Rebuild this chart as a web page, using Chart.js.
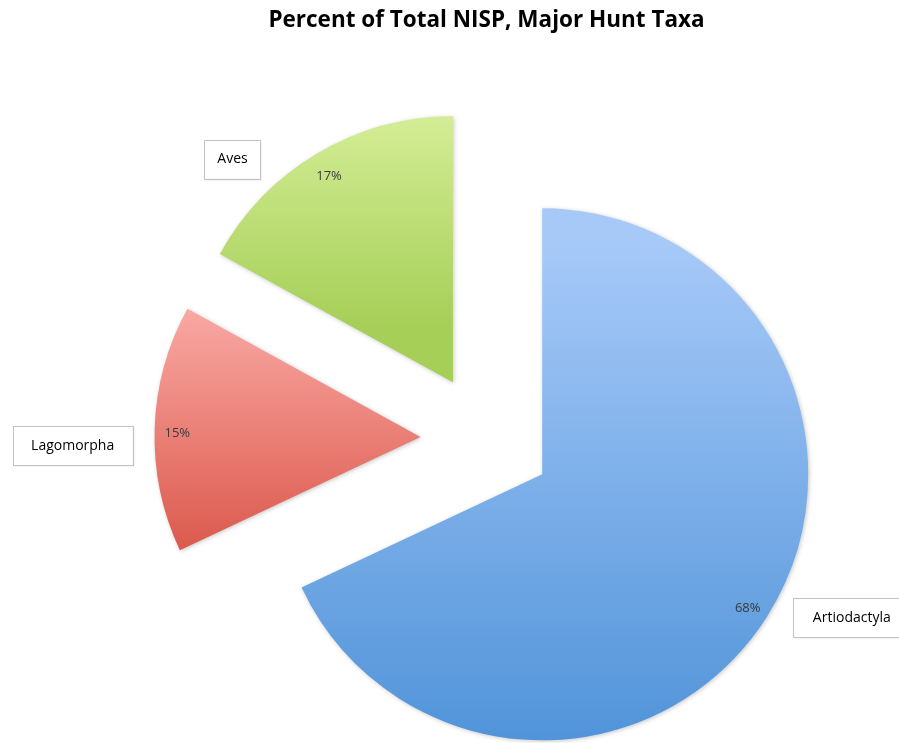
<!DOCTYPE html>
<html>
<head>
<meta charset="utf-8">
<script src="https://cdn.jsdelivr.net/npm/chart.js@4.4.0/dist/chart.umd.min.js"></script>
<style>
html, body { margin: 0; padding: 0; background: #fff; }
</style>
</head>
<body>
<canvas id="pie" width="899" height="743"></canvas>
<script>
const taxa = ['Artiodactyla', 'Lagomorpha', 'Aves'];
const nispPercent = [68, 15, 17];
const topColors = ['#a6c9f8', '#f9a9a4', '#e0f5a6'];
const bottomColors = ['#4b90d7', '#dc5a4e', '#a6cf58'];

const pieRadius = 266;
const explode = 66;   // px each slice is pulled away from the centre
// name boxes: size, and where they sit relative to the outer middle of their slice
const boxWidths = [117, 120, 56];
const nameShift = [[85, 1], [-82, 17], [-85, 6]];

function sliceAngles(i) {
    const total = nispPercent.reduce((a, b) => a + b, 0);
    let start = -Math.PI / 2;
    for (let k = 0; k < i; k++) start += nispPercent[k] / total * 2 * Math.PI;
    const sweep = nispPercent[i] / total * 2 * Math.PI;
    return { start: start, end: start + sweep, sweep: sweep };
}

function sliceGradient(context) {
    const chart = context.chart;
    const area = chart.chartArea;
    const i = context.dataIndex;
    if (!area) return topColors[i];
    const a = sliceAngles(i);
    const mid = (a.start + a.end) / 2;
    const cx = (area.left + area.right) / 2 + Math.cos(mid) * explode;
    const cy = (area.top + area.bottom) / 2 + Math.sin(mid) * explode;
    const ys = [cy, cy + Math.sin(a.start) * pieRadius, cy + Math.sin(a.end) * pieRadius];
    [-Math.PI / 2, Math.PI / 2, 3 * Math.PI / 2].forEach(t => {
        if (t > a.start && t < a.end) ys.push(cy + Math.sin(t) * pieRadius);
    });
    const g = chart.ctx.createLinearGradient(0, Math.min(...ys), 0, Math.max(...ys));
    g.addColorStop(0, topColors[i]);
    g.addColorStop(1, bottomColors[i]);
    return g;
}

const explodedPie = {
    id: 'explodedPie',
    // draw every arc pulled out along its middle angle (chart.js offset also bends the edges)
    beforeDatasetDraw(chart, args) {
        const ctx = chart.ctx;
        args.meta.data.forEach(arc => {
            const mid = (arc.startAngle + arc.endAngle) / 2;
            ctx.save();
            ctx.shadowColor = 'rgba(0,0,0,0.22)';
            ctx.shadowBlur = 4;
            ctx.shadowOffsetX = 1;
            ctx.shadowOffsetY = 1;
            ctx.translate(Math.cos(mid) * explode, Math.sin(mid) * explode);
            arc.draw(ctx, chart.chartArea);
            ctx.restore();
        });
        return false;
    },
    afterDatasetsDraw(chart) {
        const ctx = chart.ctx;
        const total = nispPercent.reduce((a, b) => a + b, 0);
        chart.getDatasetMeta(0).data.forEach((arc, i) => {
            const mid = (arc.startAngle + arc.endAngle) / 2;
            const dx = Math.cos(mid), dy = Math.sin(mid);
            const vx = arc.x + dx * explode, vy = arc.y + dy * explode;

            ctx.save();
            ctx.font = '13px "Open Sans"';
            ctx.fillStyle = '#3a3a3a';
            ctx.textAlign = 'center';
            ctx.textBaseline = 'middle';
            const r = arc.outerRadius * 0.915;
            ctx.fillText(Math.round(nispPercent[i] / total * 100) + '%', vx + dx * r, vy + dy * r + 4);

            // name box outside the slice
            const ox = vx + dx * arc.outerRadius + nameShift[i][0];
            const oy = vy + dy * arc.outerRadius + nameShift[i][1];
            ctx.font = '14px "Open Sans"';
            const w = boxWidths[i];
            const h = 39;
            ctx.shadowColor = 'rgba(0,0,0,0.15)';
            ctx.shadowBlur = 2;
            ctx.shadowOffsetX = 1;
            ctx.shadowOffsetY = 1;
            ctx.fillStyle = '#ffffff';
            ctx.fillRect(ox - w / 2, oy - h / 2, w, h);
            ctx.shadowColor = 'transparent';
            ctx.strokeStyle = '#c4c4c4';
            ctx.lineWidth = 1;
            ctx.strokeRect(Math.round(ox - w / 2) + 0.5, Math.round(oy - h / 2) + 0.5, w, h);
            ctx.fillStyle = '#000000';
            ctx.fillText(taxa[i], ox, oy);
            ctx.restore();
        });
    }
};

new Chart(document.getElementById('pie').getContext('2d'), {
    type: 'pie',
    data: {
        labels: taxa,
        datasets: [{
            data: nispPercent,
            backgroundColor: sliceGradient,
            borderWidth: 0
        }]
    },
    options: {
        responsive: false,
        animation: false,
        events: [],
        radius: pieRadius,
        layout: { padding: { left: 74, right: 0, top: 0, bottom: 0 } },
        plugins: {
            legend: { display: false },
            tooltip: { enabled: false },
            title: {
                display: true,
                text: 'Percent of Total NISP, Major Hunt Taxa',
                color: '#000000',
                font: { family: 'Open Sans', size: 22.5, weight: 'bold' },
                padding: { top: 7, bottom: 101 }
            }
        }
    },
    plugins: [explodedPie]
});
</script>
</body>
</html>
